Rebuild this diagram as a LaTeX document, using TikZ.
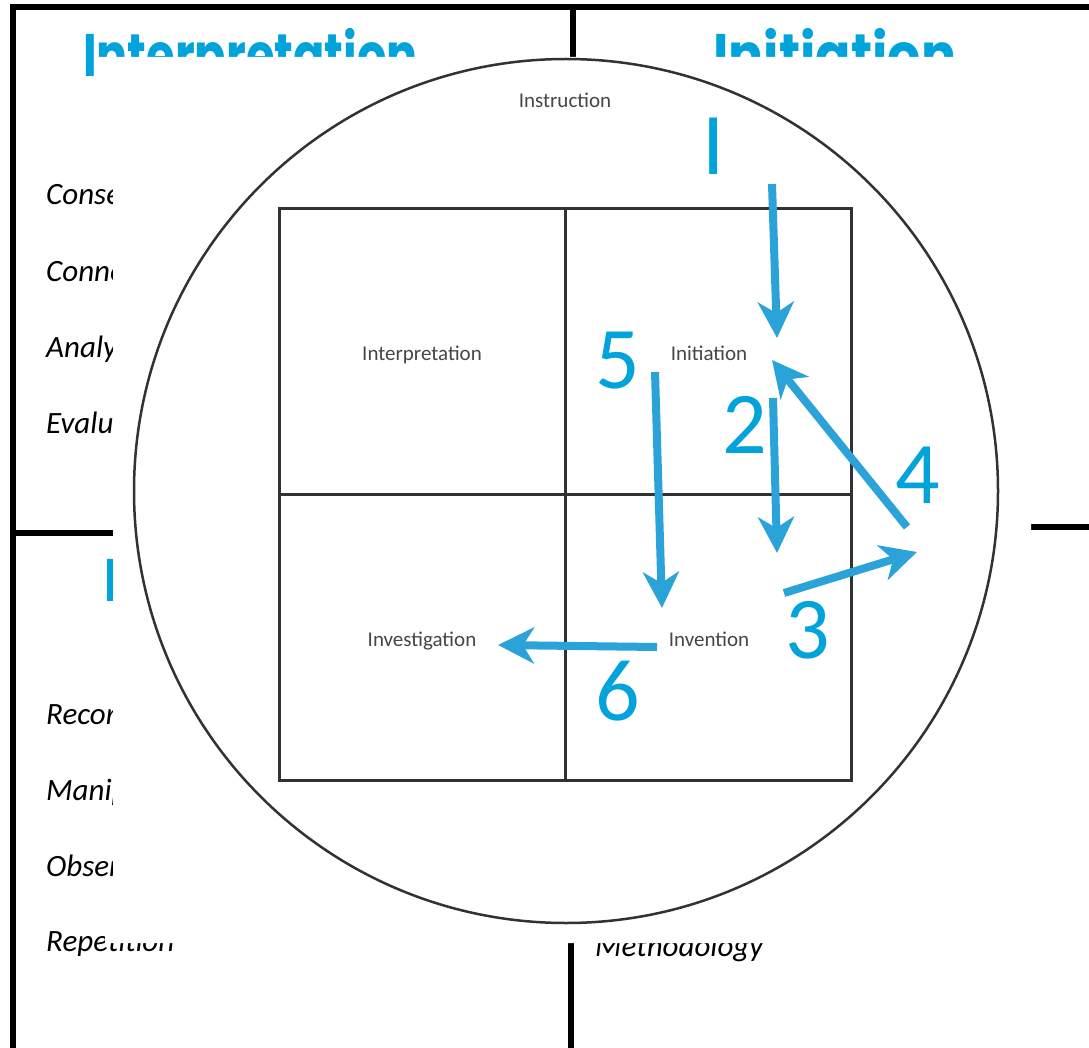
\documentclass[tikz,border=0pt]{standalone}
\usepackage{fontspec}
\setmainfont{Carlito}
\newfontfamily\titlefont{Poppins}
\usetikzlibrary{arrows.meta}
\definecolor{ttlblue}{RGB}{0,163,218}
\definecolor{arrblue}{RGB}{44,163,216}
\definecolor{gridgray}{RGB}{50,50,50}
\definecolor{lblgray}{RGB}{70,70,70}
\tikzset{
  frameline/.style={line width=6pt, black},
  bigtitle/.style={inner sep=0pt, anchor=base west, text=ttlblue, font=\titlefont\bfseries\fontsize{60}{64}\selectfont},
  itemtxt/.style={inner sep=0pt, anchor=base west, font=\itshape\fontsize{31}{34}\selectfont},
  gridline/.style={line width=3pt, gridgray},
  quadlbl/.style={inner sep=0pt, anchor=base, text=lblgray, font=\fontsize{21}{24}\selectfont},
  digit/.style={inner sep=0pt, anchor=base, text=ttlblue, font=\fontsize{88}{90}\selectfont},
  flow/.style={line width=8pt, arrblue, -{Stealth[length=36pt, width=36pt, inset=11pt]}}
}
\begin{document}
\begin{tikzpicture}[x=1pt, y=-1pt]
\useasboundingbox (0,0) rectangle (1089,1048);
\fill[white] (0,0) rectangle (1089,1048);
% background frame
\coordinate (tl) at (10,7);
\coordinate (tr) at (1089,7);
\coordinate (bl) at (13,1048);
\coordinate (mt) at (573,7);
\coordinate (mb) at (571,1048);
\coordinate (ml) at (13,533);
\coordinate (mr) at (1089,527);
\draw[frameline] (tl) -- (tr);
\draw[frameline] (13,4) -- (bl);
\draw[frameline] (mt) -- (573,120);
\draw[frameline] (571,900) -- (mb);
\draw[frameline] (ml) -- (200,533);
\draw[frameline] (950,527) -- (mr);
% background titles and items
\node[bigtitle] (t1) at (83,77) {\scalebox{0.77}[1]{Interpretation}};
\node[bigtitle] (t2) at (713,77) {\scalebox{0.87}[1]{Initiation}};
\node[bigtitle] (t3) at (104,601) {\scalebox{0.8}[1]{I}};
\node[itemtxt] (i1) at (46,205) {Conse};
\node[itemtxt] (i2) at (46,282) {Conne};
\node[itemtxt] (i3) at (46,357) {Analy};
\node[itemtxt] (i4) at (46,433) {Evalu};
\node[itemtxt] (i5) at (46,724) {Recor};
\node[itemtxt] (i6) at (46,800) {Manip};
\node[itemtxt] (i7) at (46,876) {Obser};
\node[itemtxt] (i8) at (46,951) {Repetition};
\node[itemtxt] (i9) at (595,956) {Methodology};
% white overlay
\fill[white] (96,57) -- (1031,57) -- (1031,943) -- (105,943) -- (105,925) -- (113,925) -- (113,120) -- (96,120) -- cycle;
% circle
\node[draw=gridgray, line width=2.5pt, circle, minimum size=864pt, inner sep=0pt] (circ) at (566,491) {};
\node[quadlbl] (instr) at (565,108) {Instruction};
% grid
\draw[gridline] (279,209) rectangle (851,780);
\draw[gridline] (565,209) -- (565,780);
\draw[gridline] (279,494) -- (851,494);
\node[quadlbl] (qint) at (422,360) {Interpretation};
\node[quadlbl] (qini) at (709,360) {Initiation};
\node[quadlbl] (qinv) at (422,646) {Investigation};
\node[quadlbl] (qinn) at (709,646) {Invention};
% digits
\node[digit] (d1) at (714,175) {I};
\node[digit] (d5) at (618,388) {5};
\node[digit] (d2) at (745,453) {2};
\node[digit] (d4) at (918,503) {4};
\node[digit] (d3) at (808,658) {3};
\node[digit] (d6) at (618,720) {6};
% arrows
\coordinate (a1s) at (772,184);
\coordinate (a1e) at (777,338);
\coordinate (a2s) at (773,398);
\coordinate (a2e) at (777,553);
\coordinate (a3s) at (784,593);
\coordinate (a3e) at (917,552);
\coordinate (a4s) at (907,527);
\coordinate (a4e) at (772,360);
\coordinate (a5s) at (655,372);
\coordinate (a5e) at (662,608);
\coordinate (a6s) at (657,647);
\coordinate (a6e) at (498,645);
\draw[flow] (a1s) -- (a1e);
\draw[flow] (a2s) -- (a2e);
\draw[flow] (a3s) -- (a3e);
\draw[flow] (a4s) -- (a4e);
\draw[flow] (a5s) -- (a5e);
\draw[flow] (a6s) -- (a6e);
\end{tikzpicture}
\end{document}
